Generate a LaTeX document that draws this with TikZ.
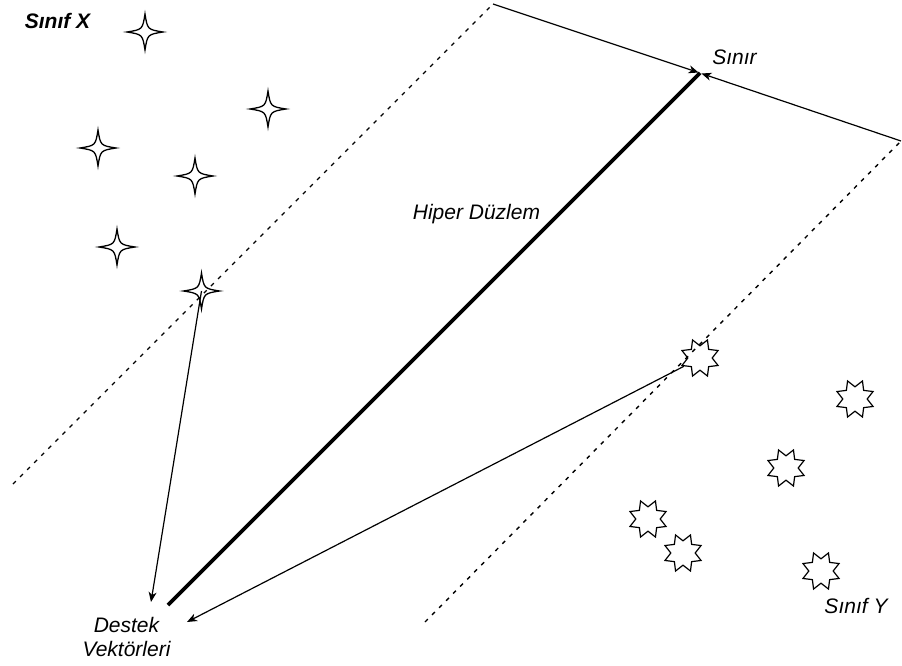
\documentclass[tikz,border=0pt]{standalone}
\usepackage{fontspec}
\setmainfont{Liberation Sans}
\usetikzlibrary{arrows.meta,shapes.geometric}
\tikzset{
  starline/.style={line width=1.3pt},
  fourstar/.pic={\draw[starline] (0,-18) .. controls (2.5,-2.5) .. (18,0) .. controls (2.5,2.5) .. (0,18) .. controls (-2.5,2.5) .. (-18,0) .. controls (-2.5,-2.5) .. cycle;},
  eightstar/.style={star, star points=8, star point ratio=1.6, minimum size=39pt, inner sep=0pt, draw, line width=1.2pt, shape border rotate=22.5},
  lbl/.style={font=\fontsize{21}{24}\selectfont\itshape, inner sep=0pt, anchor=base},
  thinline/.style={line width=1.2pt},
  arr/.style={thinline, -{Stealth[length=10pt,width=8pt,inset=3pt]}},
  dashline/.style={line width=1.4pt, dash pattern=on 4pt off 6pt},
}
\begin{document}
\begin{tikzpicture}[x=1pt,y=-1pt]
\useasboundingbox (0,0) rectangle (902,666);
% dashed margin lines
\coordinate (dl1) at (13,484);
\coordinate (dl2) at (493,4);
\coordinate (dr1) at (425,622);
\coordinate (dr2) at (901,141);
\draw[dashline] (dl1) -- (dl2);
\draw[dashline] (dr1) -- (dr2);
% boundary arrows
\coordinate (meet) at (700,73);
\draw[arr, shorten >=1.5pt] (dl2) -- (meet);
\draw[arr, shorten >=1.5pt] (dr2) -- (meet);
% hyperplane
\coordinate (hend) at (168,605);
\draw[line width=3.8pt] (hend) -- (meet);
% class X stars
\coordinate (x1) at (145,32);
\coordinate (x2) at (268,109);
\coordinate (x3) at (98,148);
\coordinate (x4) at (195,176);
\coordinate (x5) at (117,247);
\coordinate (x6) at (201.5,291);
\foreach \p in {x1,x2,x3,x4,x5,x6} \pic at (\p) {fourstar};
% class Y stars
\node[eightstar] (y1) at (700,358) {};
\node[eightstar] (y2) at (855,399) {};
\node[eightstar] (y3) at (786,468) {};
\node[eightstar] (y4) at (648,519) {};
\node[eightstar] (y5) at (683,553) {};
\node[eightstar] (y6) at (821,571) {};
% labels
\node[lbl, font=\fontsize{21}{24}\selectfont\itshape\bfseries] (lx) at (57.5,29) {Sınıf X};
\node[lbl] (ls) at (734.5,65) {Sınır};
\node[lbl] (lh) at (476.5,219) {Hiper Düzlem};
\node[lbl] (ly) at (856,613) {Sınıf Y};
\node[lbl, anchor=center, align=center] (ld) at (126.5,637.4) {Destek\\Vektörleri};
% support vector arrows
\coordinate (tx) at (151,602);
\coordinate (ty) at (187,622);
\draw[arr] (x6) -- (tx);
\draw[arr] (y1) -- (ty);
\end{tikzpicture}
\end{document}
